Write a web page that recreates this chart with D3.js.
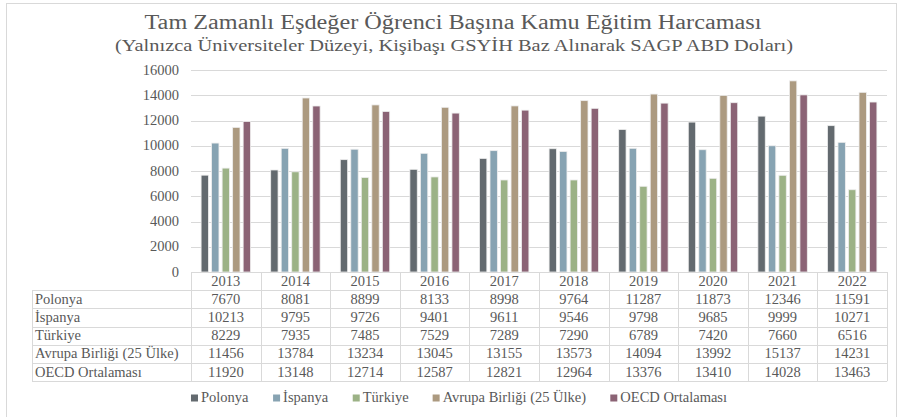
<!DOCTYPE html>
<html>
<head>
<meta charset="utf-8">
<script src="https://cdn.jsdelivr.net/npm/d3@7"></script>
<style>
  body { margin: 0; background: #fff; }
  svg { display: block; font-family: "Liberation Serif", "DejaVu Serif", serif; }
</style>
</head>
<body>
<div id="chart"></div>
<script>
// data
const years = ["2013", "2014", "2015", "2016", "2017", "2018", "2019", "2020", "2021", "2022"];
const seriesNames = ["Polonya", "İspanya", "Türkiye", "Avrupa Birliği (25 Ülke)", "OECD Ortalaması"];
const polonya = [7670, 8081, 8899, 8133, 8998, 9764, 11287, 11873, 12346, 11591];
const ispanya = [10213, 9795, 9726, 9401, 9611, 9546, 9798, 9685, 9999, 10271];
const turkiye = [8229, 7935, 7485, 7529, 7289, 7290, 6789, 7420, 7660, 6516];
const ab25 = [11456, 13784, 13234, 13045, 13155, 13573, 14094, 13992, 15137, 14231];
const oecd = [11920, 13148, 12714, 12587, 12821, 12964, 13376, 13410, 14028, 13463];
const yTicks = [0, 2000, 4000, 6000, 8000, 10000, 12000, 14000, 16000];
const colors = ["#636a6f", "#87a3b2", "#9cb286", "#ac9a80", "#8b6375"];

const series = seriesNames.map((name, i) => ({
  name,
  values: [polonya, ispanya, turkiye, ab25, oecd][i],
  color: colors[i],
}));

const width = 899, height = 417;
const textColor = "#595959";
const lineColor = "#d9d9d9";
const fs = 14.5; // body text size

const plot = { left: 191, right: 887, top: 70, bottom: 272 };
const tableLeft = 32;
const rowH = 18.2;

const svg = d3.select("#chart").append("svg")
  .attr("width", width)
  .attr("height", height);

svg.append("rect")
  .attr("width", width).attr("height", height).attr("fill", "#fff");

// outer chart border
svg.append("rect")
  .attr("x", 6.5).attr("y", 3.5)
  .attr("width", 890).attr("height", 430)
  .attr("fill", "none").attr("stroke", lineColor);

// title
svg.append("text")
  .attr("x", 453).attr("y", 29)
  .attr("text-anchor", "middle")
  .attr("font-size", 20)
  .attr("textLength", 617)
  .attr("lengthAdjust", "spacingAndGlyphs")
  .attr("fill", textColor)
  .text("Tam Zamanlı Eşdeğer Öğrenci Başına Kamu Eğitim Harcaması");
svg.append("text")
  .attr("x", 454).attr("y", 51)
  .attr("text-anchor", "middle")
  .attr("font-size", 16.5)
  .attr("textLength", 678)
  .attr("lengthAdjust", "spacingAndGlyphs")
  .attr("fill", textColor)
  .text("(Yalnızca Üniversiteler Düzeyi, Kişibaşı GSYİH Baz Alınarak SAGP ABD Doları)");

// scales
const x = d3.scaleBand().domain(years).range([plot.left, plot.right]);
const xInner = d3.scaleBand()
  .domain(seriesNames)
  .range([0, x.bandwidth()])
  .paddingOuter(0.96)
  .paddingInner(0.3);
const y = d3.scaleLinear().domain([0, 16000]).range([plot.bottom, plot.top]);

// gridlines
svg.append("g")
  .selectAll("line")
  .data(yTicks)
  .join("line")
  .attr("x1", plot.left).attr("x2", plot.right)
  .attr("y1", (d) => Math.round(y(d)) + 0.5)
  .attr("y2", (d) => Math.round(y(d)) + 0.5)
  .attr("stroke", lineColor);

// y axis labels
svg.append("g")
  .selectAll("text")
  .data(yTicks)
  .join("text")
  .attr("x", 179)
  .attr("y", (d) => y(d) + 4.5)
  .attr("text-anchor", "end")
  .attr("font-size", fs)
  .attr("fill", textColor)
  .text((d) => d);

// bars
const group = svg.append("g")
  .selectAll("g")
  .data(series)
  .join("g")
  .attr("fill", (d) => d.color);

group.selectAll("rect")
  .data((s) => s.values.map((v, i) => ({ name: s.name, year: years[i], value: v })))
  .join("rect")
  .attr("x", (d) => x(d.year) + xInner(d.name))
  .attr("y", (d) => y(d.value))
  .attr("width", xInner.bandwidth())
  .attr("height", (d) => y(0) - y(d.value))
  .attr("stroke", "#eeeeee")
  .attr("stroke-width", 0.8);

// data table
const table = svg.append("g");
const nRows = series.length;
const tableTop = plot.bottom;
const headerBottom = tableTop + rowH;
const tableBottom = headerBottom + nRows * rowH;

// horizontal lines
table.append("line")
  .attr("x1", plot.left).attr("x2", plot.right)
  .attr("y1", tableTop + 0.5).attr("y2", tableTop + 0.5)
  .attr("stroke", lineColor);
d3.range(nRows + 1).forEach((i) => {
  const yy = Math.round(headerBottom + i * rowH) + 0.5;
  table.append("line")
    .attr("x1", tableLeft).attr("x2", plot.right)
    .attr("y1", yy).attr("y2", yy)
    .attr("stroke", lineColor);
});
// vertical lines
years.forEach((yr) => {
  const xx = Math.round(x(yr)) + 0.5;
  table.append("line")
    .attr("x1", xx).attr("x2", xx)
    .attr("y1", tableTop).attr("y2", tableBottom)
    .attr("stroke", lineColor);
});
table.append("line")
  .attr("x1", plot.right + 0.5).attr("x2", plot.right + 0.5)
  .attr("y1", tableTop).attr("y2", tableBottom)
  .attr("stroke", lineColor);
table.append("line")
  .attr("x1", tableLeft + 0.5).attr("x2", tableLeft + 0.5)
  .attr("y1", headerBottom).attr("y2", tableBottom)
  .attr("stroke", lineColor);

// header years
table.selectAll("text.year")
  .data(years)
  .join("text")
  .attr("class", "year")
  .attr("x", (d) => x(d) + x.bandwidth() / 2)
  .attr("y", tableTop + rowH / 2 + 4.5)
  .attr("text-anchor", "middle")
  .attr("font-size", fs)
  .attr("fill", textColor)
  .text((d) => d);

// row labels and values
series.forEach((s, r) => {
  const cy = headerBottom + r * rowH + rowH / 2 + 4.5;
  table.append("text")
    .attr("x", tableLeft + 3)
    .attr("y", cy)
    .attr("font-size", fs)
    .attr("fill", textColor)
    .text(s.name);
  table.selectAll(null)
    .data(s.values)
    .join("text")
    .attr("x", (d, i) => x(years[i]) + x.bandwidth() / 2)
    .attr("y", cy)
    .attr("text-anchor", "middle")
    .attr("font-size", fs)
    .attr("fill", textColor)
    .text((d) => d);
});

// legend
const legend = svg.append("g").attr("font-size", fs).attr("fill", textColor);
const legendY = 402;
const gap = 24;
let lx = 0;
const items = legend.selectAll("g")
  .data(series)
  .join("g");
items.append("rect")
  .attr("y", -7.5).attr("width", 7).attr("height", 7)
  .attr("fill", (d) => d.color);
items.append("text")
  .attr("x", 10).attr("y", 0)
  .text((d) => d.name);
items.each(function () {
  const w = this.getBBox().width;
  d3.select(this).attr("transform", `translate(${lx},${legendY})`);
  lx += w + gap;
});
const totalW = lx - gap;
legend.attr("transform", `translate(${(183 + 735) / 2 - totalW / 2},0)`);
</script>
</body>
</html>
